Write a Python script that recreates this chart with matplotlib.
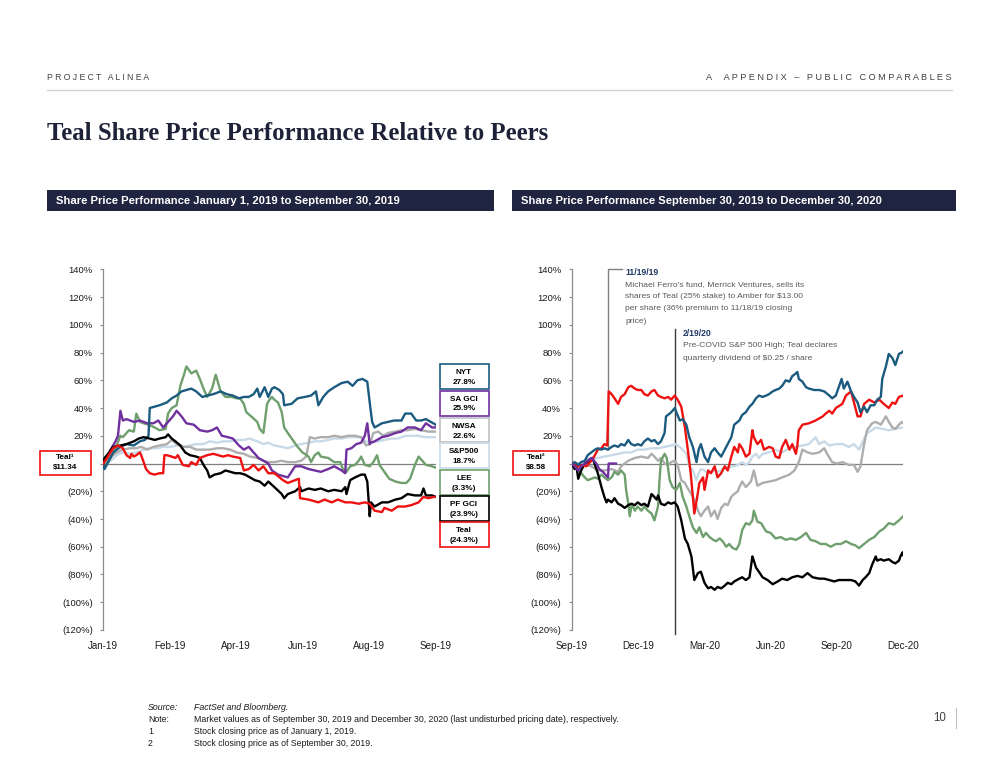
import numpy as np
import matplotlib.pyplot as plt
from matplotlib.patches import Rectangle
from matplotlib.lines import Line2D

plt.rcParams["font.family"] = ["Liberation Sans", "DejaVu Sans"]

# ---- Left panel: days since 1 Jan 2019, % change ----
nyt_19_x = [0, 1, 4, 8, 14, 19, 25, 30, 34, 37, 38, 42, 46, 52, 56, 60, 64, 68, 72, 76, 81, 85, 90, 96, 101, 106, 111, 115,
            119, 123, 126, 128, 132, 135, 138, 140, 144, 147, 148, 154, 159, 165, 170, 174, 176, 180, 184, 189, 195, 200,
            204, 208, 212, 216, 218, 220, 222, 228, 233, 238, 244, 247, 252, 256, 260, 264, 268, 272]
nyt_19_y = [0, -4, 1, 8, 12, 14, 13, 16, 17, 20, 40, 41, 42, 44, 47, 49, 52, 53, 54, 52, 48, 49, 50, 52, 50, 49, 47, 48,
            48, 50, 54, 48, 55, 48, 54, 55, 53, 50, 42, 43, 47, 48, 49, 52, 42, 48, 52, 55, 58, 59,
            56, 60, 61, 59, 44, 30, 26, 29, 30, 31, 31, 36, 36, 31, 31, 32, 30, 28]

sagci_19_x = [0, 6, 10, 12, 14, 16, 19, 25, 30, 36, 41, 45, 49, 52, 57, 60, 64, 68, 74, 79, 85, 89, 93, 97, 102, 106, 111,
              115, 119, 123, 127, 131, 135, 138, 143, 151, 154, 157, 162, 168, 173, 178, 184, 189, 195, 198, 199, 203,
              207, 211, 214, 216, 218, 219, 222, 228, 233, 239, 244, 249, 255, 260, 264, 269, 272]
sagci_19_y = [0, 10, 16, 20, 38, 31, 32, 30, 31, 29, 29, 31, 26, 29, 34, 38, 34, 29, 28, 24, 23, 24, 26, 20, 19, 18, 13,
              10, 12, 8, 4, 2, 0, -5, -8, -10, -6, -2, -2, -4, -5, -6, -4, -2, -5, -7, 10, 11,
              14, 15, 20, 29, 14, 15, 16, 19, 20, 22, 23, 26, 26, 24, 29, 26, 26]

nwsa_19_x = [0, 1, 6, 11, 16, 22, 27, 31, 36, 41, 46, 52, 56, 60, 66, 71, 76, 82, 87, 93, 98, 104, 109, 115, 120, 126,
             131, 135, 140, 146, 151, 157, 162, 166, 169, 173, 178, 184, 189, 195, 200, 206, 211, 215, 218, 221, 225,
             229, 233, 239, 244, 249, 255, 260, 266, 272]
nwsa_19_y = [0, 1, 5, 8, 10, 11, 11, 12, 10, 12, 13, 14, 17, 14, 12, 12, 10, 10, 10, 11, 11, 10, 8, 7, 5, 4,
             2, 1, 1, 2, 1, 1, 2, 5, 19, 18, 19, 19, 20, 19, 20, 20, 19, 13, 14, 22, 23,
             20, 22, 23, 24, 24, 25, 24, 23, 23]

sp_19_x = [0, 1, 6, 11, 16, 22, 27, 33, 38, 44, 49, 55, 60, 66, 71, 76, 82, 87, 93, 98, 104, 109, 115, 120, 126, 131, 135,
           140, 146, 151, 157, 162, 168, 173, 178, 184, 189, 195, 200, 206, 211, 215, 219, 225, 230, 236, 241, 247,
           252, 258, 263, 269, 272]
sp_19_y = [0, -1, 2, 6, 8, 7, 8, 10, 11, 11, 12, 12, 13, 12, 13, 14, 14, 16, 15, 16, 16, 17, 17, 18, 16, 14, 15,
           13, 12, 11, 13, 14, 15, 16, 16, 17, 18, 18, 19, 19, 19, 16, 15, 16, 17, 18, 18, 20,
           20, 20, 19, 19, 19]

lee_19_x = [0, 1, 6, 10, 14, 16, 21, 25, 27, 30, 33, 37, 42, 46, 51, 53, 56, 60, 63, 66, 68, 72, 76, 79, 82, 85, 89, 92,
            96, 100, 105, 109, 112, 115, 117, 121, 126, 128, 131, 134, 136, 138, 140, 143, 146, 148, 151, 155, 159, 163,
            168, 170, 173, 176, 178, 184, 189, 194, 196, 199, 202, 206, 209, 211, 214, 218, 221, 224, 226, 230, 234,
            239, 244, 248, 251, 255, 258, 262, 264, 269, 272]
lee_19_y = [0, -2, 4, 11, 20, 19, 24, 23, 36, 30, 29, 28, 26, 24, 25, 36, 40, 42, 56, 64, 70, 65, 67, 61, 54, 48, 54, 64,
            52, 48, 48, 47, 47, 43, 37, 34, 30, 25, 22, 43, 46, 48, 46, 44, 37, 26, 22, 17, 12, 8,
            5, 1, 6, 8, 5, 4, 1, 1, -4, -6, -2, -1, 2, 5, -1, -2, 1, 6, -1, -6, -11,
            -13, -14, -14, -11, -1, 5, 1, -1, -2, -3]

pf_19_x = [0, 1, 4, 8, 14, 19, 25, 29, 33, 38, 42, 46, 51, 53, 56, 59, 63, 67, 71, 76, 79, 82, 85, 87, 91, 96, 100, 104,
           108, 112, 116, 120, 124, 128, 132, 135, 140, 146, 148, 151, 157, 161, 162, 168, 173, 178, 184, 189, 195, 198,
           199, 202, 206, 211, 214, 216, 217, 218, 219, 222, 228, 233, 239, 244, 249, 255, 260, 262, 264, 269, 272]
pf_19_y = [0, 4, 7, 12, 13, 14, 16, 18, 19, 18, 17, 18, 19, 21, 18, 16, 13, 8, 6, 5, 4, -1, -5, -10, -8, -7, -5, -6,
           -7, -7, -8, -10, -12, -13, -16, -13, -17, -22, -25, -22, -20, -17, -20, -18, -19, -18, -20, -19, -20, -17,
           -22, -12, -10, -8, -8, -13, -25, -38, -28, -31, -28, -28, -26, -25, -22, -23, -23, -18, -23, -23, -24]

teal_19_x = [0, 3, 8, 12, 16, 19, 22, 23, 25, 27, 30, 31, 33, 35, 38, 42, 46, 49, 50, 52, 56, 59, 61, 65, 70, 72, 76, 79,
             85, 90, 94, 98, 102, 106, 112, 115, 119, 123, 127, 131, 135, 140, 147, 151, 157, 160, 161, 168, 176, 181,
             187, 192, 198, 203, 209, 214, 218, 222, 228, 230, 236, 241, 247, 252, 258, 262, 266, 271]
teal_19_y = [0, 4, 11, 13, 11, 6, 4, 7, 5, 6, 8, 6, 1, -4, -7, -8, -7, -7, 6, 6, 5, 4, 6, -1, -2, 1, -1, 4,
             6, 7, 6, 5, 6, 5, 4, -5, -4, -1, -5, -2, -7, -7, -12, -14, -12, -11, -25, -26, -28, -26,
             -28, -26, -28, -28, -29, -28, -29, -34, -35, -32, -34, -31, -31, -30, -28, -24, -25, -24]

# ---- Right panel: days since 30 Sep 2019, % change ----
nyt_20_x = [0, 4, 9, 13, 18, 22, 27, 32, 36, 41, 45, 50, 55, 59, 64, 68, 73, 78, 82, 87, 91, 96, 100, 105, 110, 114, 119,
            123, 128, 130, 135, 139, 142, 145, 149, 153, 158, 162, 167, 172, 175, 178, 183, 188, 192, 197, 201, 206, 211,
            215, 220, 224, 231, 235, 240, 245, 249, 254, 258, 263, 268, 272, 277, 281, 286, 290, 295, 300, 304, 309,
            311, 313, 318, 323, 327, 334, 341, 348, 355, 359, 364, 368, 372, 375, 380, 385, 389, 394, 398, 403, 407,
            412, 417, 421, 426, 428, 433, 437, 442, 446, 451, 455, 457]
nyt_20_y = [0, 1, -1, 1, 2, 6, 8, 10, 11, 10, 11, 10, 12, 13, 12, 14, 13, 17, 14, 13, 14, 13, 16, 18, 16, 17, 14,
            16, 22, 34, 36, 38, 40, 36, 31, 32, 28, 19, 12, 1, 10, 14, 5, 1, 8, 11, 8, 5, 10,
            14, 19, 28, 31, 35, 37, 41, 43, 47, 49, 48, 49, 50, 52, 53, 54, 56, 60, 59, 63, 65,
            66, 61, 59, 55, 54, 53, 53, 52, 49, 47, 49, 55, 61, 54, 59, 52, 48, 44, 37, 41, 37,
            42, 42, 46, 48, 61, 70, 79, 76, 71, 79, 80, 81]

sagci_20_x = [0, 4, 9, 13, 18, 22, 27, 29, 34, 38, 43, 48, 50, 51, 61]
sagci_20_y = [0, -2, -5, -2, 0, 2, 4, 3, 0, -4, -6, -9, -10, 0, 0]

nwsa_20_x = [0, 9, 18, 27, 36, 45, 55, 64, 68, 73, 78, 87, 96, 105, 110, 114, 119, 123, 128, 133, 137, 142, 146, 151,
             156, 160, 165, 169, 174, 178, 183, 188, 192, 197, 201, 206, 211, 215, 220, 224, 229, 231, 235, 240, 247,
             251, 256, 263, 272, 281, 290, 300, 307, 313, 318, 325, 332, 341, 348, 352, 359, 366, 373, 382, 389, 394,
             398, 403, 407, 414, 419, 426, 433, 437, 442, 446, 451, 455, 457]
nwsa_20_y = [0, -2, -1, -2, -5, -5, -4, -6, -2, 0, 2, 4, 5, 4, 7, 5, 2, 4, 0, -1, 1, 2, -1, -12,
             -14, -18, -22, -26, -34, -38, -34, -31, -38, -34, -40, -32, -29, -30, -24, -22, -20, -17, -13, -17, -13,
             -5, -16, -14, -13, -12, -10, -8, -5, 1, 10, 8, 7, 8, 11, 7, 1, 0, 1, -1, -1, -6,
             -2, 14, 24, 29, 30, 28, 34, 30, 26, 25, 28, 30, 29]

sp_20_x = [0, 9, 18, 27, 36, 45, 55, 64, 73, 82, 91, 100, 110, 119, 128, 137, 144, 151, 158, 162, 167, 172, 175, 178,
           183, 188, 192, 197, 201, 206, 211, 215, 220, 224, 229, 235, 240, 245, 249, 254, 258, 263, 272, 281, 290,
           300, 309, 318, 327, 336, 341, 348, 355, 364, 373, 382, 389, 396, 403, 407, 414, 419, 428, 437, 446, 457]
sp_20_y = [0, 0, 2, 4, 4, 5, 6, 7, 8, 8, 10, 10, 11, 11, 12, 13, 14, 11, 7, -2, -5, -12, -7, -4,
           -5, -7, -6, -5, -6, -5, -2, -4, -2, -2, -1, 1, -1, 1, 5, 7, 4, 7, 8, 10, 8,
           11, 12, 13, 14, 19, 14, 16, 13, 14, 14, 12, 14, 10, 18, 22, 24, 26, 25, 24, 25, 26]

lee_20_x = [0, 4, 9, 13, 18, 22, 27, 32, 36, 41, 45, 50, 55, 59, 64, 68, 73, 75, 78, 80, 83, 87, 91, 96, 100, 105, 110,
            114, 119, 121, 123, 128, 131, 135, 139, 144, 149, 153, 158, 162, 167, 172, 176, 181, 185, 190, 195, 199,
            204, 208, 213, 217, 222, 227, 231, 235, 240, 245, 249, 251, 256, 261, 268, 274, 281, 288, 295, 302, 309,
            316, 323, 329, 336, 343, 350, 357, 364, 371, 378, 385, 391, 396, 403, 410, 417, 424, 430, 437, 444, 451,
            457]
lee_20_y = [0, -1, -5, -7, -10, -12, -11, -10, -11, -8, -10, -12, -10, -6, -8, -5, -8, -19, -29, -38, -29, -34, -31,
            -34, -31, -34, -36, -41, -31, -12, 2, 7, 4, -12, -17, -19, -14, -24, -31, -38, -46, -50, -46, -53, -50,
            -53, -55, -56, -54, -56, -60, -58, -61, -62, -58, -48, -43, -44, -41, -34, -42, -43, -49, -50, -54, -53,
            -55, -54, -55, -53, -50, -55, -56, -58, -58, -60, -58, -58, -56, -58, -59, -61, -58, -55, -53, -49, -47,
            -43, -44, -41, -38]

pf_20_x = [0, 4, 6, 9, 13, 18, 22, 27, 29, 32, 36, 41, 45, 48, 50, 55, 59, 64, 68, 73, 78, 82, 87, 91, 96, 100, 105,
           110, 112, 117, 119, 123, 128, 133, 137, 142, 146, 151, 156, 160, 165, 169, 174, 178, 183, 188, 192, 197,
           201, 206, 211, 215, 220, 224, 231, 235, 240, 245, 249, 251, 254, 258, 263, 270, 277, 284, 290, 297, 304,
           311, 318, 325, 332, 341, 348, 355, 362, 368, 378, 385, 391, 396, 401, 405, 410, 414, 419, 421, 426, 430,
           437, 442, 446, 451, 453, 456, 457]
pf_20_y = [0, -4, 0, -11, -5, 0, 1, 2, 4, -1, -7, -17, -24, -28, -26, -28, -25, -29, -30, -32, -30, -29, -30, -28,
           -30, -29, -31, -22, -23, -26, -23, -29, -30, -28, -29, -28, -31, -41, -54, -58, -67, -84, -79, -78, -86,
           -90, -89, -91, -89, -90, -88, -86, -87, -85, -83, -82, -84, -82, -67, -70, -75, -78, -82, -84, -87, -85,
           -83, -84, -82, -81, -82, -79, -82, -83, -83, -84, -85, -84, -84, -84, -85, -88, -84, -82, -79, -73, -67,
           -70, -69, -70, -69, -71, -72, -70, -67, -64, -66]

teal_20_x = [0, 4, 9, 13, 20, 22, 27, 32, 36, 41, 45, 49, 51, 55, 59, 64, 68, 73, 78, 82, 87, 91, 96, 100, 105, 110,
             114, 119, 123, 128, 133, 137, 142, 146, 151, 156, 160, 164, 167, 169, 173, 176, 181, 183, 188, 192, 197,
             201, 206, 211, 215, 220, 224, 229, 231, 235, 240, 245, 249, 251, 256, 261, 265, 272, 277, 281, 286, 290,
             295, 300, 304, 309, 311, 313, 318, 327, 336, 346, 350, 355, 359, 364, 373, 378, 385, 389, 394, 398, 403,
             410, 417, 424, 430, 437, 442, 446, 451, 457]
teal_20_y = [0, -1, -2, -1, -2, -1, 2, 6, 10, 11, 14, 13, 52, 50, 47, 43, 48, 50, 55, 56, 54, 53, 53, 50, 49, 52,
             53, 49, 48, 47, 48, 46, 49, 46, 41, 26, 10, -7, -24, -36, -24, -14, -10, -19, -5, -7, -2,
             -10, -7, -2, -5, 5, 12, 8, 14, 11, 5, 7, 24, 19, 14, 17, 10, 12, 11, 5, 4, 12,
             17, 10, 14, 7, 13, 24, 28, 29, 31, 34, 36, 38, 36, 40, 43, 49, 52, 44, 34, 34, 43,
             46, 44, 46, 43, 40, 44, 43, 48, 49]

left_ticks = ["Jan-19", "Feb-19", "Apr-19", "Jun-19", "Aug-19", "Sep-19"]
right_ticks = ["Sep-19", "Dec-19", "Mar-20", "Jun-20", "Sep-20", "Dec-20"]
left_days, right_days = 272, 457

legend_names = ["NYT", "SA GCI", "NWSA", "S&P500", "LEE", "PF GCI", "Teal"]
legend_values = ["27.8%", "25.9%", "22.6%", "18.7%", "(3.3%)", "(23.9%)", "(24.3%)"]

C_NYT, C_SA, C_NWSA, C_SP = "#1B5B80", "#7030A0", "#ADADAD", "#C8DAE8"
C_LEE, C_PF, C_TEAL = "#6E9F6D", "#000000", "#EE1111"
legend_colors = [C_NYT, C_SA, "#BFBFBF", C_SP, C_LEE, C_PF, C_TEAL]
NAVY = "#1F2540"

fig = plt.figure(figsize=(10, 7.71), dpi=100)


def fx(px):
    return px / 1000


def fy(py):
    return 1 - py / 771


def pct_label(v):
    if v > 0:
        return f"{v}%"
    if v < 0:
        return f"({-v}%)"
    return ""


def style_axis(ax, xmax, labels):
    ax.set_xlim(0, xmax)
    ax.set_ylim(-120, 140)
    yt = list(range(-120, 141, 20))
    ax.set_yticks(yt)
    ax.set_yticklabels([pct_label(v) for v in yt])
    ax.set_xticks(np.linspace(0, xmax, 6))
    ax.set_xticklabels(labels)
    for s in ["top", "right", "bottom"]:
        ax.spines[s].set_visible(False)
    ax.spines["left"].set_color("#8C8C8C")
    ax.spines["left"].set_linewidth(0.9)
    ax.tick_params(axis="y", direction="out", length=2.5, width=0.8, color="#8C8C8C",
                   labelsize=6.8, pad=5, labelcolor="#1A1A1A")
    ax.tick_params(axis="x", length=0, labelsize=7.1, pad=8, labelcolor="#1A1A1A")
    ax.axhline(0, color="#7F7F7F", lw=0.9, zorder=1)
    ax.patch.set_alpha(0)


ax1 = fig.add_axes([0.1033, 0.1829, 0.3324, 0.4678])
ax2 = fig.add_axes([0.5717, 0.1829, 0.3316, 0.4678])
style_axis(ax1, left_days, left_ticks)
style_axis(ax2, right_days, right_ticks)

lw = 1.7
left_series = [(sp_19_x, sp_19_y, C_SP), (nwsa_19_x, nwsa_19_y, C_NWSA), (lee_19_x, lee_19_y, C_LEE),
               (sagci_19_x, sagci_19_y, C_SA), (nyt_19_x, nyt_19_y, C_NYT), (pf_19_x, pf_19_y, C_PF),
               (teal_19_x, teal_19_y, C_TEAL)]
right_series = [(sp_20_x, sp_20_y, C_SP), (nwsa_20_x, nwsa_20_y, C_NWSA), (lee_20_x, lee_20_y, C_LEE),
                (pf_20_x, pf_20_y, C_PF), (teal_20_x, teal_20_y, C_TEAL), (nyt_20_x, nyt_20_y, C_NYT),
                (sagci_20_x, sagci_20_y, C_SA)]
for x, y, c in left_series:
    ax1.plot(x, y, color=c, lw=lw, zorder=3)
for x, y, c in right_series:
    ax2.plot(x, y, color=c, lw=lw, zorder=3)

# event markers on the right panel
ax2.plot([50, 50, 69], [12, 140, 140], color="#808080", lw=1, zorder=2, clip_on=False)
ax2.plot([142, 142], [97, -123], color="#3A3A3A", lw=1, zorder=2, clip_on=False)

# ---- header ----
fig.text(fx(47), fy(77), "P R O J E C T   A L I N E A", fontsize=6.2, color="#404040", va="center")
fig.text(fx(952), fy(77), "A     A P P E N D I X   –   P U B L I C   C O M P A R A B L E S",
         fontsize=6.55, color="#404040", va="center", ha="right")
fig.add_artist(Line2D([fx(47), fx(952)], [fy(90), fy(90)], color="#D4D4D4", lw=1))
fig.text(fx(47), fy(134), "Teal Share Price Performance Relative to Peers", family="Liberation Serif",
         fontweight="bold", fontsize=17.8, color="#1E2238", va="center")

for x0, x1, label in [(47, 494, "Share Price Performance January 1, 2019 to September 30, 2019"),
                      (512, 956, "Share Price Performance September 30, 2019 to December 30, 2020")]:
    fig.add_artist(Rectangle((fx(x0), fy(211)), fx(x1 - x0), 21 / 771, transform=fig.transFigure,
                             facecolor=NAVY, edgecolor="none"))
    fig.text(fx(x0 + 9), fy(200.5), label, color="white", fontweight="bold", fontsize=8.1, va="center")

# ---- legend boxes (left panel) ----
box_tops = [364, 391, 418, 443.5, 470, 496, 522]
for top, name, val, c in zip(box_tops, legend_names, legend_values, legend_colors):
    fig.add_artist(Rectangle((fx(439.5), fy(top + 24.5)), fx(49.5), 24.5 / 771, transform=fig.transFigure,
                             facecolor="white", edgecolor=c, lw=1.2))
    fig.text(fx(464), fy(top + 8), name, ha="center", va="center", fontweight="bold", fontsize=5.9)
    fig.text(fx(464), fy(top + 18), val, ha="center", va="center", fontweight="bold", fontsize=5.9)

# Teal reference price boxes
for x0, w, sup, price in [(40, 51, "¹", "\\$11.34"), (512.5, 46.5, "²", "\\$8.58")]:
    fig.add_artist(Rectangle((fx(x0), fy(475)), fx(w), 24 / 771, transform=fig.transFigure,
                             facecolor="white", edgecolor=C_TEAL, lw=1.2))
    fig.text(fx(x0 + w / 2), fy(457.5), "Teal" + sup, ha="center", va="center", fontweight="bold", fontsize=5.9)
    fig.text(fx(x0 + w / 2), fy(468), price, ha="center", va="center", fontweight="bold", fontsize=5.9)

# ---- event annotations ----
fig.text(fx(625), fy(272), "11/19/19", fontweight="bold", fontsize=6.2, color="#1F3864", va="center")
for i, line in enumerate(["Michael Ferro’s fund, Merrick Ventures, sells its",
                          "shares of Teal (25% stake) to Amber for \\$13.00",
                          "per share (36% premium to 11/18/19 closing",
                          "price)"]):
    fig.text(fx(625), fy(284.5 + 12.2 * i), line, fontsize=6.1, color="#595959", va="center")
fig.text(fx(683), fy(333.5), "2/19/20", fontweight="bold", fontsize=6.2, color="#1F3864", va="center")
for i, line in enumerate(["Pre-COVID S&P 500 High; Teal declares",
                          "quarterly dividend of \\$0.25 / share"]):
    fig.text(fx(683), fy(346 + 12 * i), line, fontsize=6.1, color="#595959", va="center")

# ---- footnotes ----
foot_labels = ["Source:", "Note:", "1", "2"]
foot_texts = ["FactSet and Bloomberg.",
              "Market values as of September 30, 2019 and December 30, 2020 (last undisturbed pricing date), respectively.",
              "Stock closing price as of January 1, 2019.",
              "Stock closing price as of September 30, 2019."]
for i, (lab, txt) in enumerate(zip(foot_labels, foot_texts)):
    style = "italic" if i == 0 else "normal"
    y = fy(708 + 11.8 * i)
    fig.text(fx(148), y, lab, fontsize=6.3, style=style, color="#1A1A1A", va="center")
    fig.text(fx(194), y, txt, fontsize=6.3, style=style, color="#1A1A1A", va="center")

fig.text(fx(946), fy(718), "10", fontsize=8.3, color="#404040", ha="right", va="center")
fig.add_artist(Line2D([fx(956), fx(956)], [fy(708), fy(728)], color="#BFBFBF", lw=0.8))

plt.savefig("out.png", dpi=100)
plt.close(fig)
